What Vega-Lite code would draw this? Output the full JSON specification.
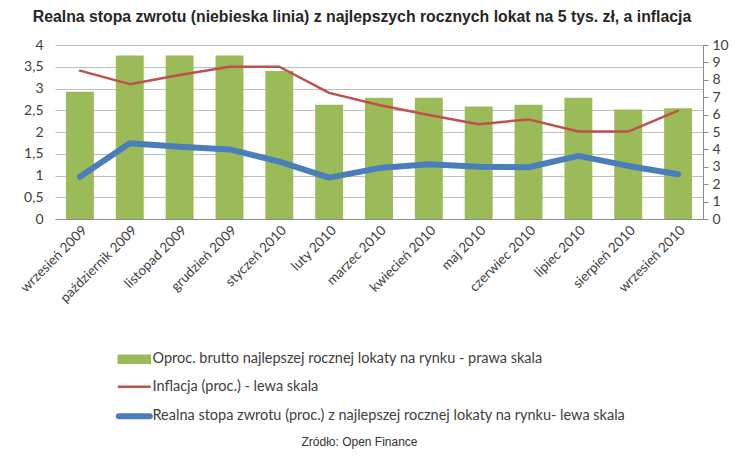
{
  "$schema": "https://vega.github.io/schema/vega-lite/v6.json",
  "width": 648,
  "height": 174,
  "autosize": {"type": "none"},
  "padding": {"left": 55, "top": 45, "right": 37, "bottom": 238},
  "background": "white",
  "title": {
    "text": "Realna stopa zwrotu (niebieska linia) z najlepszych rocznych lokat na 5 tys. zł, a inflacja",
    "font": "Liberation Sans",
    "fontSize": 15.8,
    "fontWeight": "bold",
    "color": "#262626",
    "anchor": "middle",
    "offset": 12,
    "dx": -17
  },
  "config": {
    "view": {"stroke": null},
    "axis": {"labelFont": "Lato", "labelColor": "#404040", "titleFont": "Liberation Sans"}
  },
  "data": {
    "values": [
      {"miesiac": "wrzesień 2009", "lokata": 7.32, "inflacja": 3.41, "realna": 0.97},
      {"miesiac": "październik 2009", "lokata": 9.39, "inflacja": 3.10, "realna": 1.74},
      {"miesiac": "listopad 2009", "lokata": 9.39, "inflacja": 3.31, "realna": 1.66},
      {"miesiac": "grudzień 2009", "lokata": 9.39, "inflacja": 3.50, "realna": 1.60},
      {"miesiac": "styczeń 2010", "lokata": 8.50, "inflacja": 3.50, "realna": 1.32},
      {"miesiac": "luty 2010", "lokata": 6.57, "inflacja": 2.90, "realna": 0.95},
      {"miesiac": "marzec 2010", "lokata": 6.97, "inflacja": 2.62, "realna": 1.17},
      {"miesiac": "kwiecień 2010", "lokata": 6.97, "inflacja": 2.39, "realna": 1.26},
      {"miesiac": "maj 2010", "lokata": 6.47, "inflacja": 2.18, "realna": 1.20},
      {"miesiac": "czerwiec 2010", "lokata": 6.57, "inflacja": 2.29, "realna": 1.19},
      {"miesiac": "lipiec 2010", "lokata": 6.97, "inflacja": 2.01, "realna": 1.45},
      {"miesiac": "sierpień 2010", "lokata": 6.30, "inflacja": 2.01, "realna": 1.22},
      {"miesiac": "wrzesień 2010", "lokata": 6.36, "inflacja": 2.49, "realna": 1.03}
    ]
  },
  "encoding": {
    "x": {
      "field": "miesiac",
      "type": "nominal",
      "sort": null,
      "scale": {"paddingInner": 0.44, "paddingOuter": 0.22},
      "axis": {
        "title": "Zródło: Open Finance",
        "titleFont": "Liberation Sans",
        "titleFontSize": 12,
        "titleFontWeight": "normal",
        "titleColor": "#333333",
        "titleX": 304,
        "titleY": 222,
        "titleBaseline": "middle",
        "titleAlign": "center",
        "labelAngle": -45,
        "labelFontSize": 13.5,
        "labelPadding": 4,
        "ticks": false,
        "domainColor": "#8c8c8c",
        "domainWidth": 1
      }
    }
  },
  "layer": [
    {
      "mark": {"type": "bar"},
      "encoding": {
        "y": {
          "field": "lokata",
          "type": "quantitative",
          "scale": {"domain": [0, 10], "nice": false},
          "axis": {
            "orient": "right",
            "title": null,
            "values": [0, 1, 2, 3, 4, 5, 6, 7, 8, 9, 10],
            "grid": false,
            "domain": true,
            "domainColor": "#8c8c8c",
            "ticks": true,
            "tickColor": "#8c8c8c",
            "tickSize": 5,
            "labelPadding": 4,
            "labelFontSize": 14
          }
        },
        "color": {
          "datum": "lokata",
          "type": "nominal",
          "scale": {
            "domain": ["lokata", "inflacja", "realna"],
            "range": ["#9bbb59", "#c0504d", "#4a7ebb"]
          },
          "legend": {
            "orient": "none",
            "legendX": 72,
            "legendY": 307,
            "direction": "vertical",
            "title": null,
            "padding": 0,
            "symbolSize": 400,
            "rowPadding": 10.5,
            "labelOffset": 11,
            "labelFont": "Lato",
            "labelFontSize": 14.5,
            "labelColor": "#404040",
            "labelLimit": 650,
            "labelExpr": "datum.value === 'lokata' ? 'Oproc. brutto najlepszej rocznej lokaty na rynku - prawa skala' : datum.value === 'inflacja' ? 'Inflacja (proc.) - lewa skala' : 'Realna stopa zwrotu (proc.) z najlepszej rocznej lokaty na rynku- lewa skala'",
            "encode": {
              "symbols": {
                "update": {
                  "shape": {"signal": "datum.value === 'lokata' ? 'M-1.55,-0.35H1.55V0.35H-1.55Z' : 'M-1.55,0H1.55'"},
                  "fill": {"signal": "datum.value === 'lokata' ? '#9bbb59' : 'transparent'"},
                  "stroke": {"signal": "datum.value === 'lokata' ? 'transparent' : datum.value === 'inflacja' ? '#c0504d' : '#4a7ebb'"},
                  "strokeWidth": {"signal": "datum.value === 'realna' ? 6 : 2.5"},
                  "strokeCap": {"value": "round"},
                  "opacity": {"value": 1}
                }
              }
            }
          }
        }
      }
    },
    {
      "transform": [{"fold": ["inflacja", "realna"], "as": ["seria", "wartosc"]}],
      "mark": {"type": "line", "strokeCap": "round", "strokeJoin": "round"},
      "encoding": {
        "y": {
          "field": "wartosc",
          "type": "quantitative",
          "scale": {"domain": [0, 4], "nice": false},
          "axis": {
            "orient": "left",
            "title": null,
            "values": [0, 0.5, 1, 1.5, 2, 2.5, 3, 3.5, 4],
            "labelExpr": "replace(format(datum.value, '.1~f'), '.', ',')",
            "grid": true,
            "gridColor": "#bfbfbf",
            "gridWidth": 1,
            "domain": false,
            "ticks": false,
            "labelPadding": 12,
            "labelFontSize": 14
          }
        },
        "color": {"field": "seria", "type": "nominal", "legend": {"title": null}},
        "strokeWidth": {
          "field": "seria",
          "type": "nominal",
          "scale": {"domain": ["inflacja", "realna"], "range": [2.5, 6]},
          "legend": null
        }
      }
    }
  ],
  "resolve": {"scale": {"y": "independent"}}
}
